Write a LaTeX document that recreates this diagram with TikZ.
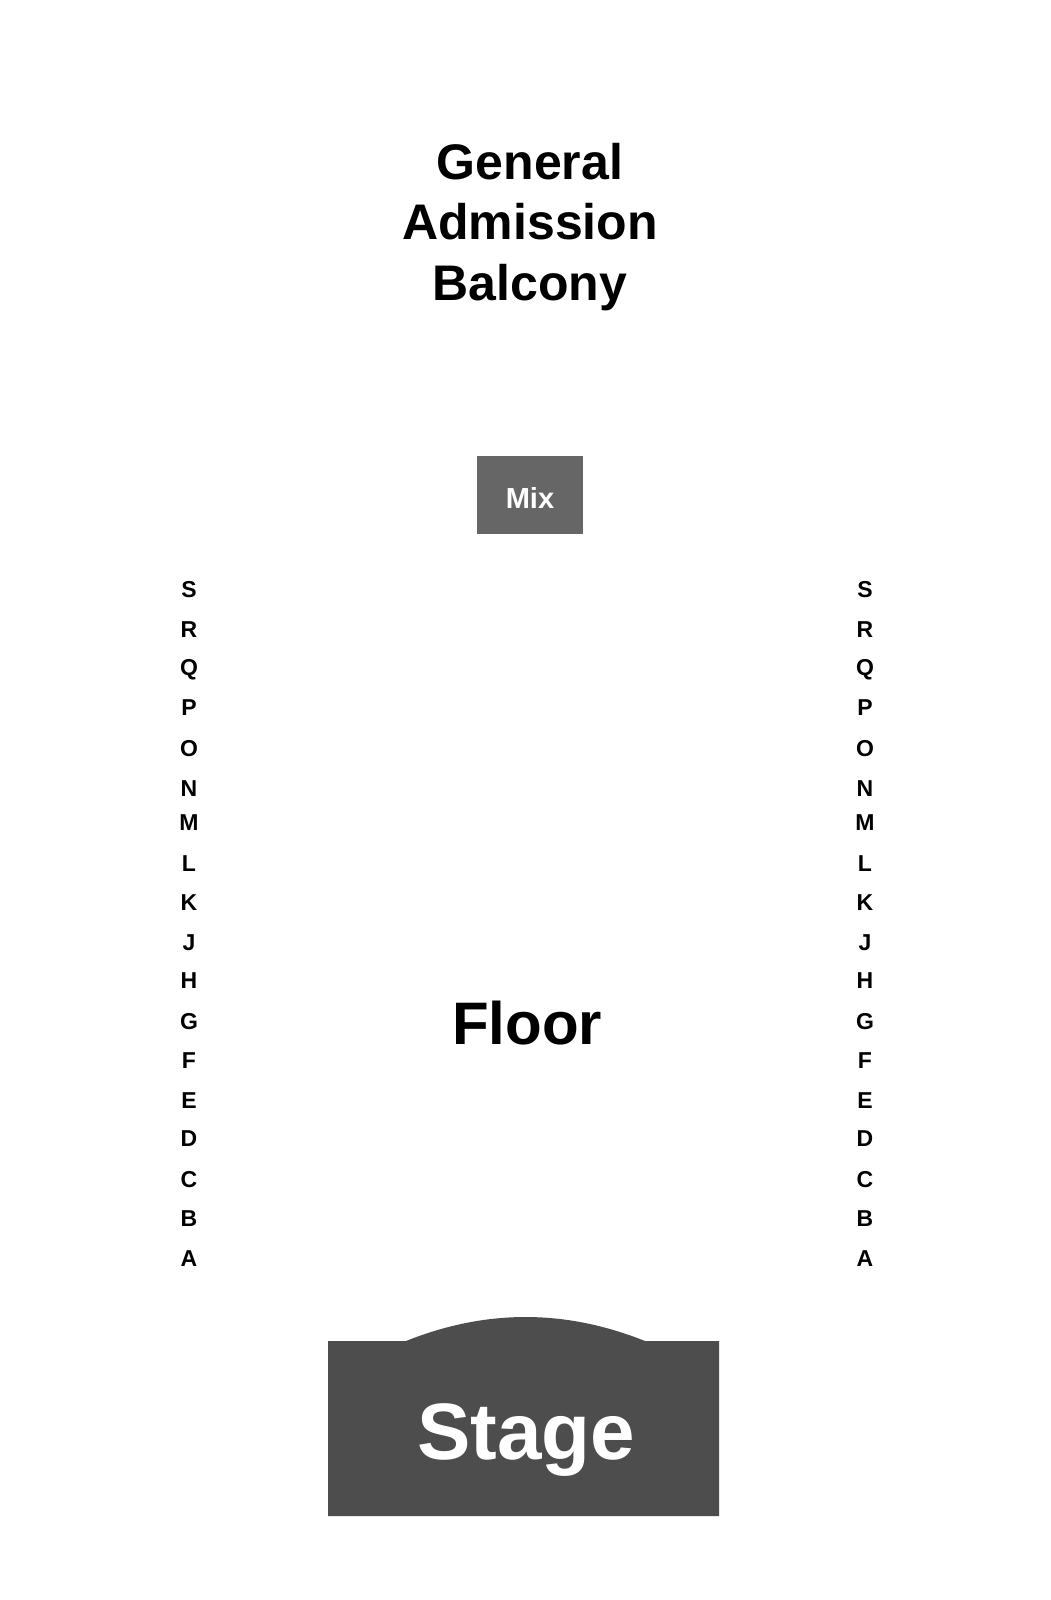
\documentclass[tikz,border=0pt]{standalone}
\usepackage{fontspec}
\setmainfont{Liberation Sans}
\begin{document}
\begin{tikzpicture}[x=1pt,y=-1pt,
  rowlbl/.style={font=\fontsize{23}{23}\selectfont\bfseries, anchor=base, inner sep=0pt},
  bigtxt/.style={anchor=base, inner sep=0pt}]
\useasboundingbox (0,0) rectangle (1050,1600);
\fill[white] (0,0) rectangle (1050,1600);
% title
\node[align=center, inner sep=0pt, font=\fontsize{50}{60.5}\selectfont\bfseries] (title) at (530,227) {General\\Admission\\Balcony};
% mix
\fill[fill={rgb,255:red,102;green,102;blue,102}] (477,456) rectangle (583,534);
\node[bigtxt, text=white, font=\fontsize{29}{29}\selectfont\bfseries] (mix) at (530,508) {Mix};
% floor
\node[bigtxt, font=\fontsize{60}{60}\selectfont\bfseries] (floor) at (527,1044) {Floor};
% stage
\fill[fill={rgb,255:red,77;green,77;blue,77}] (328,1341) -- (406,1341) .. controls (486,1309) and (565,1309) .. (645,1341) -- (719,1341) -- (719,1516) -- (328,1516) -- cycle;
\node[bigtxt, text=white, font=\fontsize{80}{80}\selectfont\bfseries] (stage) at (526,1459) {Stage};
% row letters
\foreach \l/\y in {S/589,R/629,Q/667,P/707,O/748,N/788,M/822,L/863,K/902,J/942,H/980,G/1021,F/1060,E/1100,D/1138,C/1179,B/1218,A/1258}{
  \node[rowlbl] (L\l) at (189,\y+8) {\l};
  \node[rowlbl] (R\l) at (865,\y+8) {\l};
}
\end{tikzpicture}
\end{document}
